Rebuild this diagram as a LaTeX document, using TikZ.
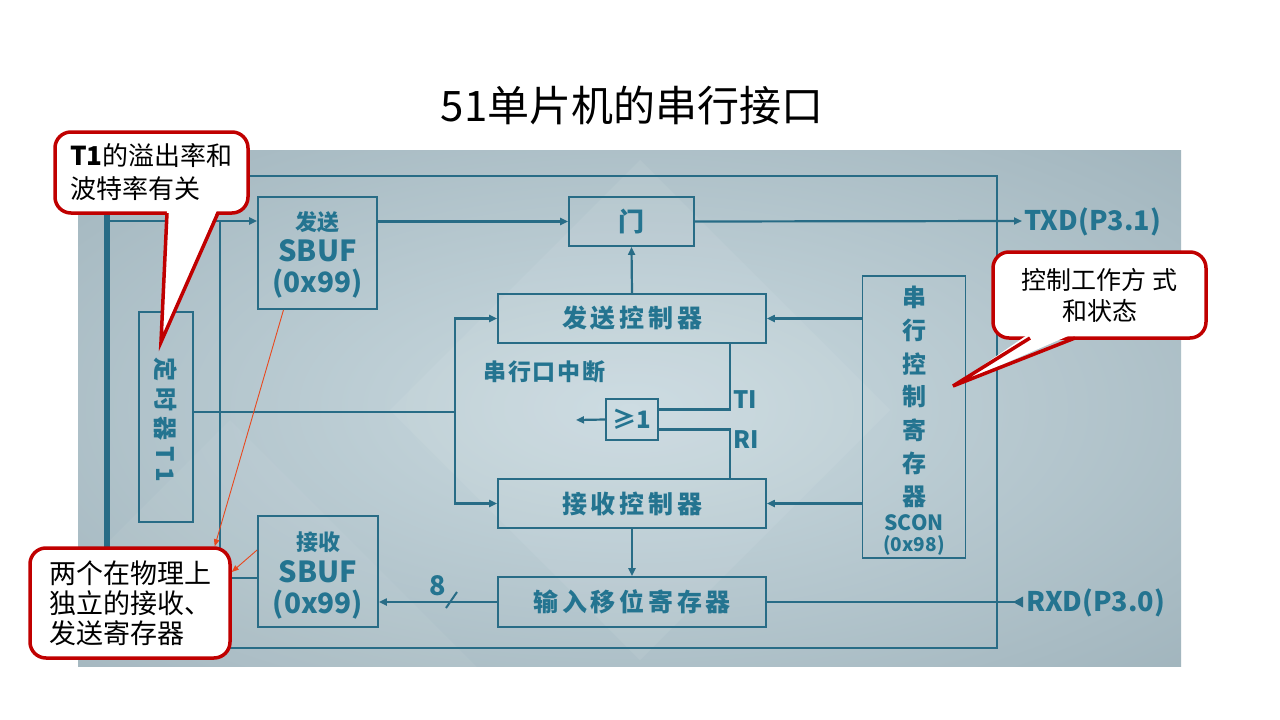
\documentclass[tikz,border=0pt]{standalone}
\usepackage{fontspec}
\setmainfont{Noto Sans CJK SC}
\newfontfamily\cjkls[LetterSpace=15]{Noto Sans CJK SC}
\newfontfamily\cjkmid[LetterSpace=8]{Noto Sans CJK SC}
\newfontfamily\cjkwide[LetterSpace=24]{Noto Sans CJK SC}
\usetikzlibrary{arrows.meta,calc}
\definecolor{teal1}{RGB}{40,108,134}
\definecolor{tealtxt}{RGB}{36,116,144}
\definecolor{cred}{RGB}{192,0,0}
\definecolor{ared}{RGB}{232,72,30}
\definecolor{pin}{RGB}{202,218,224}
\definecolor{pout}{RGB}{134,156,166}
\pgfdeclareradialshading{panelshade}{\pgfpoint{0bp}{0bp}}{color(0bp)=(pin); color(60bp)=(pout); color(70bp)=(pout)}
\begin{document}
\begin{tikzpicture}[x=1pt,y=-1pt,
 blk/.style={draw=teal1,line width=1.8pt,text=tealtxt,font=\bfseries,inner sep=0pt,align=center},
 wire/.style={draw=teal1,line width=2.2pt},
 arr/.style={wire,-{Triangle[length=8pt,width=7pt]}},
 lbl/.style={text=tealtxt,font=\bfseries,inner sep=0pt},
 callout/.style={draw=cred,line width=3.5pt,fill=white,rounded corners=16pt,inner sep=0pt},
 ptr/.style={draw=cred,line width=3.5pt,line join=miter},
 redarr/.style={draw=ared,line width=0.9pt,-{Triangle[length=7pt,width=5.5pt]}}]

\useasboundingbox (0,0) rectangle (1280,720);
\fill[white] (0,0) rectangle (1280,720);
\shade[shading=panelshade] (78,150) rectangle (1181,666);
\begin{scope}
\clip (78,150) rectangle (1181,666);
\fill[white,opacity=0.07] (640,160) -- (890,410) -- (640,660) -- (390,410) -- cycle;
\fill[white,opacity=0.05] (230,420) -- (480,670) -- (-20,670) -- cycle;
\end{scope}

% title
\node[font=\fontsize{42}{46}\selectfont] (title) at (632,106) {51单片机的串行接口};

% frame and bus
\draw[teal1,line width=2.2pt] (107,176) rectangle (997,648);
\draw[teal1,line width=6pt] (107,176) -- (107,648);
\coordinate (busA) at (107,221);
\coordinate (busB) at (107,578);
\coordinate (vA) at (220,221);
\coordinate (vB) at (220,648);
\coordinate (br) at (455,412);
\coordinate (txd) at (1022,221);
\coordinate (rxd) at (1023,602);
\coordinate (intr) at (576,420);

% blocks
\node[blk,minimum width=119pt,minimum height=112pt] (sbt) at (317.5,253) {};
\node[lbl,font=\bfseries\fontsize{22}{22}\selectfont] (sbt1) at (317.5,222) {发送};
\node[lbl,font=\bfseries\fontsize{29}{30}\selectfont] (sbt2) at (317.5,251) {SBUF};
\node[lbl,font=\bfseries\fontsize{28}{30}\selectfont] (sbt3) at (317.5,284) {(0x99)};
\node[blk,minimum width=120pt,minimum height=111pt] (sbr) at (318,571.5) {};
\node[lbl,font=\bfseries\fontsize{22}{22}\selectfont] (sbr1) at (318,542) {接收};
\node[lbl,font=\bfseries\fontsize{29}{30}\selectfont] (sbr2) at (318,572) {SBUF};
\node[lbl,font=\bfseries\fontsize{28}{30}\selectfont] (sbr3) at (318,605) {(0x99)};
\node[blk,minimum width=125pt,minimum height=49pt] (gate) at (631.5,221.5) {\fontsize{26}{28}\selectfont 门};
\node[blk,minimum width=268pt,minimum height=49pt] (txc) at (632,318.5) {\cjkls\bfseries\fontsize{25}{28}\selectfont 发送控制器};
\node[blk,minimum width=268pt,minimum height=49pt] (rxc) at (632,503.5) {\cjkls\bfseries\fontsize{25}{28}\selectfont 接收控制器};
\node[blk,minimum width=268pt,minimum height=50pt] (shift) at (632,602) {\cjkls\bfseries\fontsize{25}{28}\selectfont 输入移位寄存器};
\node[blk,minimum width=52pt,minimum height=41pt] (orgate) at (632,419.5) {\fontsize{24}{26}\selectfont ≥1};
\node[blk,minimum width=103pt,minimum height=282pt] (scon) at (914,417) {};
\foreach \c [count=\i] in {串,行,控,制,寄,存,器}
  \node[lbl,font=\bfseries\fontsize{24}{24}\selectfont] (sc\i) at (914,{297+33.3*(\i-1)}) {\c};
\node[lbl,font=\bfseries\fontsize{21}{22}\selectfont] (scname) at (914,523) {SCON};
\node[lbl,font=\bfseries\fontsize{19}{20}\selectfont] (scaddr) at (914,545) {(0x98)};
\node[blk,minimum width=54pt,minimum height=210pt] (t1) at (166,417) {};
\node[lbl,rotate=-90,font=\cjkwide\bfseries\fontsize{24}{24}\selectfont] (t1txt) at (166,420) {定时器T1};

% labels
\node[lbl,anchor=west,font=\cjkmid\bfseries\fontsize{23}{24}\selectfont] (intrlbl) at (483,372) {串行口中断};
\node[lbl,anchor=west,font=\bfseries\fontsize{24}{24}\selectfont] (tilbl) at (733,400) {TI};
\node[lbl,anchor=west,font=\bfseries\fontsize{24}{24}\selectfont] (rilbl) at (733,440) {RI};
\node[lbl,anchor=west,font=\bfseries\fontsize{27}{28}\selectfont] (txdlbl) at (1024,222) {TXD(P3.1)};
\node[lbl,anchor=west,font=\bfseries\fontsize{27}{28}\selectfont] (rxdlbl) at (1026,603) {RXD(P3.0)};
\node[lbl,font=\bfseries\fontsize{27}{28}\selectfont] (eight) at (438,586) {8};

% wires
\draw[arr] (busA) -- (busA -| sbt.west);
\draw[wire] (vA) -- (vB);
\draw[wire] (busB) -- (busB -| sbr.west);
\draw[arr] (sbt.east |- gate.west) -- (gate.west);
\draw[arr] (gate.east) -- (txd);
\draw[arr] (txc.north) -- (gate.south);
\draw[arr] (scon.west |- txc.east) -- (txc.east);
\draw[arr] (scon.west |- rxc.east) -- (rxc.east);
\draw[wire] (t1.east |- br) -- (br);
\draw[arr] (br) |- (txc.west);
\draw[arr] (br) |- (rxc.west);
\draw[wire] ([xshift=-37pt]txc.south east) |- ([yshift=10pt]orgate.east);
\draw[wire] ([xshift=-37pt]rxc.north east) |- ([yshift=-10pt]orgate.east);
\draw[arr] (orgate.west) -- (intr);
\draw[arr] (rxc.south) -- (shift.north);
\draw[arr] (shift.west) -- (shift.west -| sbr.east);
\draw[wire,line width=2pt] (446,608) -- (457,592);
\draw[wire] (shift.east) -- (rxd);
\fill[teal1] ([xshift=-10pt]rxd) -- ++(10,-5.5) -- ++(0,11) -- cycle;

% callouts
\node[callout,minimum width=193pt,minimum height=81pt,align=left,font=\fontsize{26}{33}\selectfont] (c1) at (151.5,172.5)
 {\textbf{T1}的溢出率和\\波特率有关};
\coordinate (c1a) at (167,213);
\coordinate (c1b) at (218,213);
\coordinate (c1tip) at (161,342);
\fill[white] ([yshift=5pt]c1a) -- (c1tip) -- ([yshift=5pt]c1b) -- cycle;
\draw[ptr] (c1a) -- (c1tip) -- (c1b);

\node[callout,minimum width=213pt,minimum height=86pt,align=center,font=\fontsize{25}{31}\selectfont] (c2) at (1099.5,295)
 {控制工作方 式\\和状态};
\coordinate (c2a) at (1030,338);
\coordinate (c2b) at (1075,338);
\coordinate (c2tip) at (953,386);
\fill[white] ([yshift=5pt]c2a) -- (c2tip) -- ([yshift=5pt]c2b) -- cycle;
\draw[ptr] (c2a) -- (c2tip) -- (c2b);

\node[callout,minimum width=200pt,minimum height=110pt,align=left,font=\fontsize{27}{30}\selectfont] (c3) at (130,603)
 {两个在物理上\\独立的接收、\\发送寄存器};

\draw[redarr] ([xshift=-34pt]sbt.south) -- ([xshift=-17pt]c3.north east);
\draw[redarr] ([yshift=21.5pt]sbr.west) -- ([yshift=31pt]c3.east);
\end{tikzpicture}
\end{document}
